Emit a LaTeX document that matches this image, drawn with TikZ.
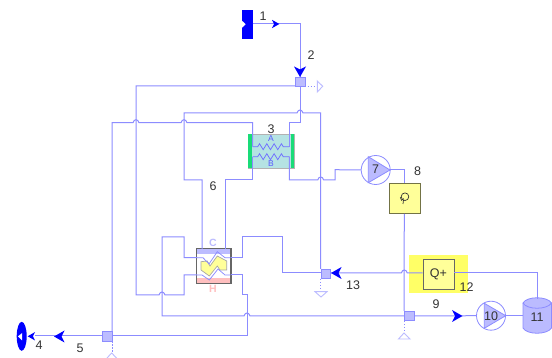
\documentclass[tikz,border=0pt]{standalone}
\usepackage{fontspec}
\setmainfont{Liberation Sans}
\usetikzlibrary{shapes.geometric,decorations.pathmorphing}
\definecolor{pipe}{HTML}{8C8CFF}
\definecolor{tapfill}{HTML}{BCBCFF}
\definecolor{pumpfill}{HTML}{BBBBFF}
\definecolor{hxteal}{HTML}{B5E3E3}
\definecolor{hxgreen}{HTML}{19DC78}
\definecolor{boxyel}{HTML}{FFFF99}
\definecolor{halo}{HTML}{FFFF66}
\definecolor{labelc}{HTML}{333333}
\newcommand{\hop}[2]{-- (#1-3,#2) .. controls (#1-2,#2-4) and (#1+2,#2-4) .. (#1+3,#2)}
\newcommand{\hopL}[2]{-- (#1+3,#2) .. controls (#1+2,#2-4) and (#1-2,#2-4) .. (#1-3,#2)}
\newcommand{\blueArrow}[4]{\fill[blue,shift={(#1,#2)},rotate=#3,scale=#4] (5.5,0) -- (-5,-6) -- (-2,0) -- (-5,6) -- cycle;}
\tikzset{
  pipeline/.style={draw=pipe,line width=1pt},
  thinline/.style={draw=pipe,line width=0.75pt},
  coil/.style={draw=pipe!80!blue,line width=0.75pt,decorate,decoration={zigzag,segment length=7.3pt,amplitude=3pt,pre length=5pt,post length=4pt}},
  bleed/.style={draw=pipe,line width=0.8pt,dash pattern=on 1.5pt off 1.5pt},
  ventmark/.style={draw=tapfill,line width=0.9pt,fill=white},
  tap/.style={draw=pipe,fill=tapfill,line width=0.5pt,minimum size=9.5pt,inner sep=0pt},
  num/.style={text=labelc,font=\fontsize{12.5}{13}\selectfont,inner sep=0pt},
  pumpring/.style={circle,draw=pipe,line width=0.8pt,minimum size=29pt,inner sep=0pt},
  pumptri/.style={fill=pumpfill,draw=pipe,line width=0.8pt},
  ctl/.style={draw=black!55!boxyel,fill=boxyel,line width=0.8pt,minimum size=30.5pt,inner sep=0pt}
}
\begin{document}
\begin{tikzpicture}[x=1pt,y=-1pt]
\useasboundingbox (0,0) rectangle (552,358);
\fill[white] (0,0) rectangle (552,358);

% connection points
\coordinate (t2w) at (295.3,86);
\coordinate (t2e) at (304.7,86);
\coordinate (t2s) at (300,87);
\coordinate (t2n) at (300,77);
\coordinate (t5e) at (112,336);
\coordinate (t5n) at (112,332);
\coordinate (t5s) at (112,341);
\coordinate (t5w) at (102,336);
\coordinate (t13n) at (320.7,269);
\coordinate (t13s) at (320.7,279);
\coordinate (t13e) at (331,273);
\coordinate (t9n) at (404,311);
\coordinate (t9s) at (404,321);
\coordinate (t9w) at (404,316);
\coordinate (t9e) at (414,316);
\coordinate (hAin) at (252.7,146.7);
\coordinate (hAout) at (289.3,146.7);
\coordinate (hBin) at (252.7,156.7);
\coordinate (hBout) at (289.3,156.7);
\coordinate (s1) at (252.7,24);
\coordinate (s4) at (35,336);
\coordinate (d11n) at (537,299);
\coordinate (d11w) at (523,316);
\coordinate (p7e) at (390,170);
\coordinate (p10e) at (505.7,316);
\coordinate (xCa) at (202,249);
\coordinate (xCb) at (225,249);
\coordinate (xHl) at (197,275);
\coordinate (xHr) at (230.7,275);
\coordinate (xTl) at (197,257.7);
\coordinate (xTr) at (230.7,257.7);

% yellow halo and Q+
\fill[halo] (409,255) rectangle (468,293);
\node[draw=black!60,fill=boxyel,line width=0.7pt,minimum width=31pt,minimum height=30pt,inner sep=0pt,text=labelc,font=\fontsize{12.5}{13}\selectfont] (qp) at (438.5,274) {Q+};

% drum 11
\path[fill=pumpfill,draw=pipe,line width=0.8pt] (523,303) -- (523,328) .. controls (527,335) and (547,335) .. (551.5,328) -- (551.5,303) .. controls (547,296) and (527,296) .. (523,303) -- cycle;
\draw[pipe,line width=0.8pt] (523,303) .. controls (527,310) and (547,310) .. (551.5,303);

% box 8
\node[ctl] (b8) at (404.7,198.3) {};
\draw[labelc,line width=0.7pt] (405,196.7) circle[radius=3.8];
\draw[labelc,line width=0.7pt] (403.5,200) -- (403,204);
\draw[labelc,line width=0.6pt] (400.2,197.2) -- (401.6,200.4) -- (403.6,198.4);

% pumps
\node[pumpring] (p7) at (375.7,170) {};
\path[pumptri] (368.3,156.7) -- (368.3,182.7) -- (390,170) -- cycle;
\node[pumpring] (p10) at (491,315.7) {};
\path[pumptri] (484.3,303.3) -- (484.3,328.3) -- (505.7,315.7) -- cycle;

% heat exchanger 3
\node[draw=black!30,fill=hxteal,line width=0.7pt,minimum width=46pt,minimum height=34pt,inner sep=0pt] (hx3) at (271.3,151) {};
\fill[hxgreen] (248.3,134) rectangle (251.8,168);
\fill[hxgreen] (290.8,134) rectangle (294.3,168);

% heat exchanger 6
\node[draw=black!60,fill=white,line width=0.7pt,minimum width=34pt,minimum height=34pt,inner sep=0pt] (hx6) at (213.7,266) {};
\fill[tapfill] (197,249.4) rectangle (230.4,254);
\fill[red!25] (197,278) rectangle (230.4,282.7);
\draw[draw=black!60,line width=0.7pt] (hx6.south west) rectangle (hx6.north east);
\path[fill=boxyel,draw=black!35,line width=0.7pt] (201,261.7) -- (207.3,261) -- (210,266) -- (217.3,256) -- (226.7,261) -- (226.7,270) -- (220,270) -- (217.3,266) -- (209.3,276) -- (201,270) -- cycle;
\draw[thinline] (xTl) -- (203,257.7) -- (209,264) -- (217.3,251.7) -- (225,257.7) -- (xTr);
\draw[thinline] (xHl) -- (202,275) -- (209.3,280) -- (218,269) -- (225,275) -- (xHr);

% source and sink
\node[fill=blue,minimum width=11pt,minimum height=28.7pt,inner sep=0pt] (src) at (247.2,24.3) {};
\fill[white] (241.7,20.5) -- (245.7,24.3) -- (241.7,28) -- cycle;
\node[ellipse,fill=blue,minimum width=10pt,minimum height=29pt,inner sep=0pt] (snk) at (21.7,336.3) {};
\fill[white] (18,336.3) -- (22.2,333) -- (22.2,340.5) -- cycle;

% pipes
\draw[pipeline] (s1) -- (300,24) -- (t2n);
\draw[pipeline] (t2w) -- (136,86) -- (136,295) \hop{162}{295} -- (184,295) -- (184,275) -- (xHl);
\draw[pipeline] (t2s) -- (300,122.7) -- (289.3,122.7) -- (hAout);
\draw[pipeline] (hAin) -- (252.7,122.7) \hopL{184}{122.7} \hopL{136}{122.7} -- (112,122.7) -- (t5n);
\draw[pipeline] (t13n) -- (320.7,113) \hopL{300}{113} -- (184,113) -- (184,180) -- (202,180) -- (xCa);
\draw[pipeline] (xCb) -- (225,180) -- (252.7,180) -- (hBin);
\draw[pipeline] (hBout) -- (289.3,180) \hop{320.7}{180} -- (335,180) -- (335,169.7) -- (p7.west);
\draw[pipeline] (p7e) -- (404.3,170) -- (b8.north -| 404.3,0);
\draw[pipeline] (b8.south -| 404.3,0) -- (t9n);
\draw[pipeline] (xTl) -- (184,257.7) -- (184,237) -- (162,237) -- (162,316) \hop{247}{316} -- (t9w);
\draw[pipeline] (xTr) -- (242,257.7) -- (242,237) -- (282,237) -- (282,273) -- (t13e);
\draw[pipeline] (xHr) -- (242,275) -- (242,295) -- (247,295) -- (247,336) -- (t5e);
\draw[pipeline] (t5w) -- (s4);
\draw[pipeline] (qp.west |- 0,273) \hopL{404.3}{273} -- (t13e);
\draw[pipeline] (t9e) -- (p10.west);
\draw[pipeline] (p10e) -- (d11w);
\draw[pipeline] (qp.east |- 0,273) -- (537,273) -- (d11n);

% coils in exchanger 3
\draw[coil] (hAin) -- (hAout);
\draw[coil] (hBin) -- (hBout);

% tap squares
\node[tap] (t2) at (300,82) {};
\node[tap] (t5) at (107,336.5) {};
\node[tap] (t13) at (325.7,274) {};
\node[tap] (t9) at (409,316) {};

% bleeds and vent marks
\draw[bleed] (t2e) -- (316.5,86);
\path[ventmark] (317.3,81) -- (322.7,86.3) -- (317.3,92) -- cycle;
\draw[bleed] (t13s) -- (320.7,291);
\path[ventmark] (315,291.7) -- (327,291.7) -- (321,297) -- cycle;
\draw[bleed] (t9s) -- (404,333);
\path[ventmark] (404,333) -- (410,339) -- (398.5,339) -- cycle;
\draw[bleed] (t5s) -- (112,352);
\draw[draw=tapfill,line width=0.9pt] (107,358) -- (111.7,353) -- (116.5,358);

% arrowheads
\blueArrow{275.5}{24}{0}{0.7}
\blueArrow{300}{71.5}{-90}{1}
\blueArrow{336.5}{273}{180}{1}
\blueArrow{457}{316}{0}{1}
\blueArrow{59.5}{336.5}{180}{1}
\blueArrow{31.5}{336.3}{180}{0.7}

% labels
\node[num] (l1) at (263,16) {1};
\node[num] (l2) at (311,55) {2};
\node[num] (l3) at (271,129) {3};
\node[num] (l4) at (39,345) {4};
\node[num] (l5) at (80,348) {5};
\node[num] (l6) at (213,186) {6};
\node[num] (l7) at (375.5,169.5) {7};
\node[num] (l8) at (417.5,171) {8};
\node[num] (l9) at (436,304) {9};
\node[num] (l10) at (491,316) {10};
\node[num] (l11) at (537,317) {11};
\node[num] (l12) at (466.5,287.5) {12};
\node[num] (l13) at (353,285) {13};
\node[inner sep=0pt,text=blue!65,font=\fontsize{8.5}{9}\selectfont] (la) at (271,138.5) {A};
\node[inner sep=0pt,text=blue!65,font=\fontsize{8.5}{9}\selectfont] (lb) at (271,164) {B};
\node[inner sep=0pt,text=tapfill,font=\bfseries\fontsize{10.5}{11}\selectfont] (lc) at (213,242.5) {C};
\node[inner sep=0pt,text=red!25,font=\bfseries\fontsize{10.5}{11}\selectfont] (lh) at (213,288.5) {H};
\end{tikzpicture}
\end{document}
